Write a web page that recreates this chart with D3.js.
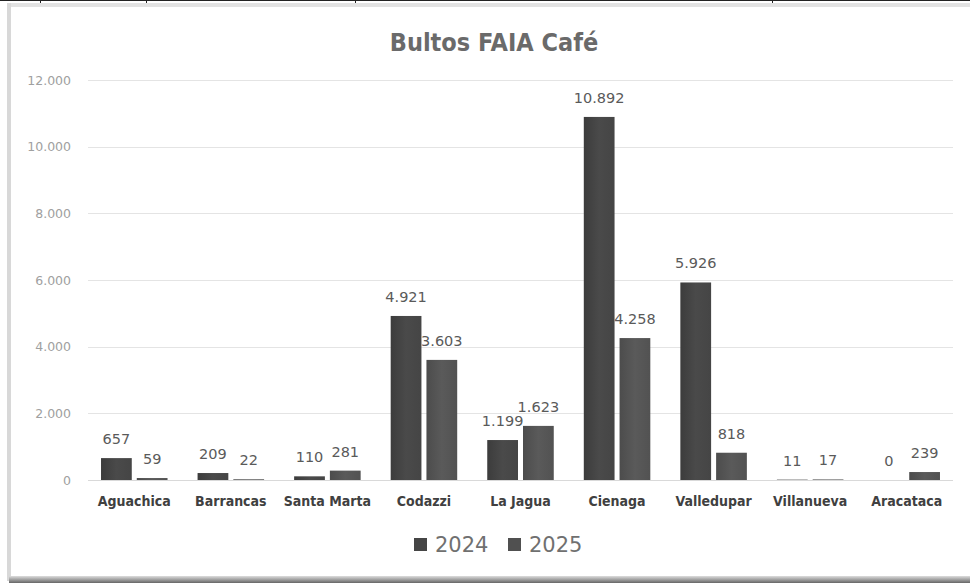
<!DOCTYPE html>
<html><head><meta charset="utf-8">
<script src="https://cdn.jsdelivr.net/npm/d3@7"></script>
<style>
html,body{margin:0;padding:0;background:#fff;}
svg{display:block;}
</style></head>
<body>
<svg id="chart" width="970" height="583"></svg>
<script>
const categories = ["Aguachica","Barrancas","Santa Marta","Codazzi","La Jagua","Cienaga","Valledupar","Villanueva","Aracataca"];
const series2024 = [657,209,110,4921,1199,10892,5926,11,0];
const series2025 = [59,22,281,3603,1623,4258,818,17,239];
const seriesNames = ["2024","2025"];
const yTicks = [0,2000,4000,6000,8000,10000,12000];
const title = "Bultos FAIA Café";

const W = 970, H = 583;
const svg = d3.select("#chart");
const narrow = "'Liberation Sans Narrow','DejaVu Sans Condensed','Arial Narrow',sans-serif";

const defs = svg.append("defs");
const g1 = defs.append("linearGradient").attr("id","g2024").attr("x1",0).attr("x2",1).attr("y1",0).attr("y2",0);
g1.append("stop").attr("offset","0%").attr("stop-color","#3c3c3c");
g1.append("stop").attr("offset","50%").attr("stop-color","#4a4a4a");
g1.append("stop").attr("offset","100%").attr("stop-color","#454545");
const g2 = defs.append("linearGradient").attr("id","g2025").attr("x1",0).attr("x2",1).attr("y1",0).attr("y2",0);
g2.append("stop").attr("offset","0%").attr("stop-color","#4c4c4c");
g2.append("stop").attr("offset","50%").attr("stop-color","#5a5a5a");
g2.append("stop").attr("offset","100%").attr("stop-color","#525252");
const bottomGrad = defs.append("linearGradient").attr("id","bshadow").attr("x1",0).attr("x2",0).attr("y1",0).attr("y2",1);
bottomGrad.append("stop").attr("offset","0%").attr("stop-color","#ddd");
bottomGrad.append("stop").attr("offset","100%").attr("stop-color","#666");

svg.append("rect").attr("x",0).attr("y",0).attr("width",W).attr("height",H).attr("fill","#fff");
svg.append("line").attr("x1",0).attr("x2",W).attr("y1",0.5).attr("y2",0.5).attr("stroke","#222");
[40,146,355,772].forEach(x=>svg.append("line").attr("x1",x+0.5).attr("x2",x+0.5).attr("y1",0).attr("y2",4).attr("stroke","#222"));
svg.append("rect").attr("x",8).attr("y",3).attr("width",W-8).attr("height",4).attr("fill","#e2e2e2");
svg.append("rect").attr("x",7).attr("y",3).attr("width",4).attr("height",H-5).attr("fill","#d8d8d8");
svg.append("rect").attr("x",9).attr("y",576).attr("width",W-9).attr("height",7).attr("fill","url(#bshadow)");

const x0 = d3.scaleBand().domain(categories).range([86,955]).paddingInner(0).paddingOuter(0);
const x1 = d3.scaleBand().domain(seriesNames).range([0, x0.bandwidth()]).paddingInner(0.14).paddingOuter(0.42);
const y = d3.scaleLinear().domain([0,12000]).range([480,80]);

const fmt = d3.formatLocale({decimal:",",thousands:".",grouping:[3],currency:["$",""]}).format(",d");

svg.append("g").selectAll("line").data(yTicks.filter(d=>d>0)).join("line")
  .attr("x1",88).attr("x2",953).attr("y1",d=>Math.round(y(d))+0.5).attr("y2",d=>Math.round(y(d))+0.5)
  .attr("stroke","#e4e4e4").attr("stroke-width",1.2);

const yAxis = d3.axisLeft(y).tickValues(yTicks).tickFormat(fmt).tickSize(0).tickPadding(0);
const ya = svg.append("g").attr("transform","translate(71,0)").call(yAxis);
ya.select(".domain").remove();
ya.selectAll("text").attr("fill","#a0a0a0").attr("font-size",12.5).attr("font-family","'DejaVu Sans',sans-serif");

const data = categories.map((c,i)=>({cat:c, vals:[{s:"2024",v:series2024[i]},{s:"2025",v:series2025[i]}]}));
const grp = svg.append("g").selectAll("g").data(data).join("g").attr("transform",d=>`translate(${x0(d.cat)},0)`);
grp.selectAll("rect").data(d=>d.vals).join("rect")
  .attr("x",d=>x1(d.s)).attr("width",x1.bandwidth())
  .attr("y",d=>y(d.v)).attr("height",d=>y(0)-y(d.v))
  .attr("fill",d=>d.s==="2024"?"url(#g2024)":"url(#g2025)");
grp.selectAll("text").data(d=>d.vals).join("text")
  .attr("x",d=>x1(d.s)+x1.bandwidth()/2).attr("y",d=>y(d.v)-14)
  .attr("text-anchor","middle").attr("fill","#5a5a5a").attr("font-size",14.5)
  .attr("font-family","'DejaVu Sans',sans-serif")
  .text(d=>fmt(d.v));

svg.append("line").attr("x1",88).attr("x2",953).attr("y1",480.5).attr("y2",480.5).attr("stroke","#d9d9d9");

const xAxis = d3.axisBottom(x0).tickSize(0).tickPadding(0);
const xa = svg.append("g").attr("transform","translate(0,496)").call(xAxis);
xa.select(".domain").remove();
xa.selectAll("text").attr("fill","#404040").attr("font-size",14).attr("font-weight","bold").attr("font-family",narrow);

svg.append("text").attr("x",494).attr("y",51).attr("text-anchor","middle")
  .attr("fill","#6a6a6a").attr("font-size",25).attr("font-weight","bold").attr("font-family",narrow).text(title);

const leg = svg.append("g");
const legX = [414,508];
seriesNames.forEach((s,i)=>{
  leg.append("rect").attr("x",legX[i]).attr("y",538).attr("width",13).attr("height",13).attr("fill",i===0?"#454545":"#505050");
  leg.append("text").attr("x",legX[i]+21).attr("y",552).attr("fill","#707070").attr("font-size",21).attr("font-family","'DejaVu Sans',sans-serif").text(s);
});
</script>
</body></html>
